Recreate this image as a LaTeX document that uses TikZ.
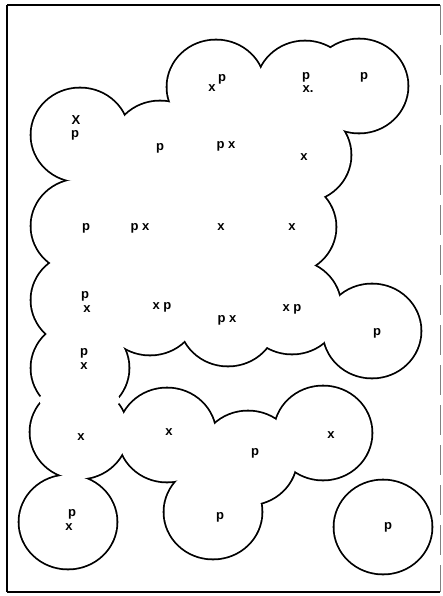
\documentclass[tikz,border=0pt]{standalone}
\usepackage{fontspec}
\setmainfont{Liberation Sans}
\begin{document}
\begin{tikzpicture}[x=1pt,y=-1pt,
  lbl/.style={inner sep=0pt, font=\fontsize{13}{13}\selectfont\bfseries},
  ring/.style={line width=3.6pt, black},
  inner/.style={fill=white, draw=none},
  gapcut/.style={fill=white, draw=none},
  frameline/.style={line width=2pt, black}]
\useasboundingbox (0,0) rectangle (442,596);
\def\myRX{48.5pt}\def\myRY{46.5pt}
\def\myCircles{(80,135),(216,87),(305,88),(359,86),(160,148),(227,146),(302,155),
 (80,226),(140,227),(221,226),(287,227),(80,300),(150,308),(228,319),(292,307),
 (372,331),(80,368),(79,432),(167,435),(248,458),(323,433),(68,522),(213,512),(383,527)}
% outlines of the union of the disks
\foreach \c in \myCircles {\draw[ring] \c ellipse [x radius=\myRX, y radius=\myRY];}
\foreach \c in \myCircles {\fill[white] \c ellipse [x radius=\myRX, y radius=\myRY];}
% clear interior gaps between disks
\fill[inner] (80,135)--(160,148)--(216,87)--(305,88)--(359,86)--(302,155)--(287,227)
  --(292,307)--(228,319)--(150,308)--(80,368)--(80,300)--(80,226)--cycle;
\fill[inner] (167,435)--(248,458)--(213,512)--cycle;
% openings in the outline
\fill[gapcut] (44,400) circle [radius=5pt];
\fill[gapcut] (115,400) circle [radius=5pt];
% labels
\node[lbl] (l1a) at (76,120) {X};
\node[lbl] (l1b) at (75,135) {p};
\node[lbl] (l2a) at (212,88) {x};
\node[lbl] (l2b) at (222,79) {p};
\node[lbl] (l3a) at (306,77) {p};
\node[lbl] (l3b) at (308,89) {x.};
\node[lbl] (l4) at (364,77) {p};
\node[lbl] (l5) at (160,148) {p};
\node[lbl] (l6) at (226,146) {p x};
\node[lbl] (l7) at (304,157) {x};
\node[lbl] (l8) at (86,228) {p};
\node[lbl] (l9) at (140,228) {p x};
\node[lbl] (l10) at (221,227) {x};
\node[lbl] (l11) at (292,227) {x};
\node[lbl] (l12a) at (85,296) {p};
\node[lbl] (l12b) at (87,309) {x};
\node[lbl] (l13) at (162,307) {x p};
\node[lbl] (l14) at (227,320) {p x};
\node[lbl] (l15) at (292,309) {x p};
\node[lbl] (l16) at (377,333) {p};
\node[lbl] (l17a) at (84,353) {p};
\node[lbl] (l17b) at (84,366) {x};
\node[lbl] (l18) at (81,437) {x};
\node[lbl] (l19) at (169,432) {x};
\node[lbl] (l20) at (255,453) {p};
\node[lbl] (l21) at (331,435) {x};
\node[lbl] (l22a) at (72,514) {p};
\node[lbl] (l22b) at (69,527) {x};
\node[lbl] (l23) at (220,517) {p};
\node[lbl] (l24) at (388,527) {p};
% frame
\coordinate (fa) at (7,5);
\coordinate (fb) at (440,5);
\coordinate (fc) at (440,592);
\coordinate (fd) at (7,592);
\draw[frameline, line width=1.5pt] (fa) -- (fb);
\draw[frameline, line width=2.5pt] (fa) -- (fd);
\draw[frameline] (fd) -- (fc);
\draw[line width=0.8pt, gray, dash pattern=on 30pt off 10pt] (fb) -- (fc);
\end{tikzpicture}
\end{document}
